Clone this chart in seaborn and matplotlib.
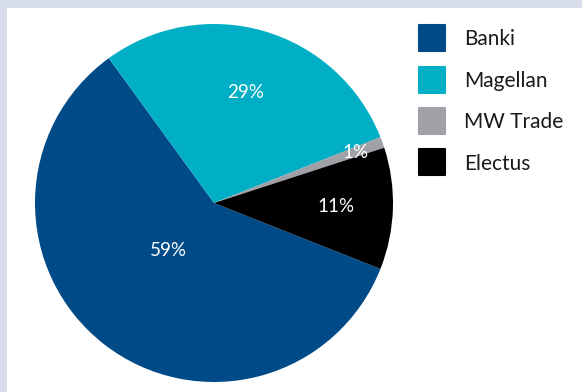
import matplotlib
matplotlib.use("Agg")
import matplotlib.pyplot as plt
import seaborn as sns
import numpy as np
from matplotlib.patches import Rectangle
from matplotlib.lines import Line2D
from matplotlib.markers import MarkerStyle

categories = ["Banki", "Magellan", "MW Trade", "Electus"]
shares = [59, 29, 1, 11]
pct_labels = ["59%", "29%", "1%", "11%"]
colors = ["#004a87", "#00afc5", "#a0a1a6", "#000000"]

sns.set_theme(style="white")
plt.rcParams["font.family"] = ["Lato", "DejaVu Sans"]

fig = plt.figure(figsize=(5.82, 3.92), dpi=100)
fig.patch.set_facecolor("#d6dce9")
fig.patches.append(Rectangle((7 / 582, 0), 1, (392 - 8) / 392,
                             transform=fig.transFigure, facecolor="white",
                             edgecolor="none", zorder=-5))

ax = fig.add_axes([35 / 582, 10 / 392, 358 / 582, 358 / 392])
ax.set_facecolor("none")
ax.set_zorder(2)
pal = sns.color_palette(colors)
wedges, _ = ax.pie(shares, colors=pal, startangle=338.4, counterclock=False,
                   radius=1.0, wedgeprops=dict(linewidth=0))
ax.set_xlim(-1, 1)
ax.set_ylim(-1, 1)
ax.set_aspect("equal")
ax.axis("off")

label_r = [0.37, 0.64, 0.84, 0.68]
label_dang = [6, 0, 0, 0]
for w, lab, r, da in zip(wedges, pct_labels, label_r, label_dang):
    mid = np.deg2rad((w.theta1 + w.theta2) / 2 - da)
    ax.text(r * np.cos(mid), r * np.sin(mid), lab, color="white",
            fontsize=13.5, ha="center", va="center")

handles = [Line2D([], [], linestyle="none",
                  marker=MarkerStyle("s", joinstyle="round"),
                  markersize=19, markerfacecolor=c, markeredgecolor=c,
                  markeredgewidth=1.5) for c in colors]
leg = fig.legend(handles, categories, loc="upper left",
                 bbox_to_anchor=(408 / 582, 1 - 21 / 392),
                 frameon=False, fontsize=15, labelspacing=1.03,
                 handlelength=1.5, handletextpad=0.8, borderaxespad=0)
leg.set_zorder(3)
for t in leg.get_texts():
    t.set_color("#1a1a1a")

fig.savefig("out.png", dpi=100)
